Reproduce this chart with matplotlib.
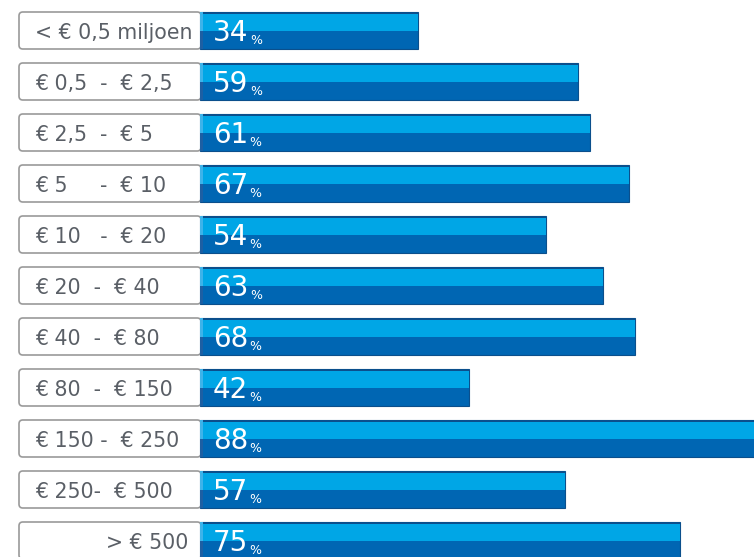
import matplotlib
matplotlib.use("Agg")
import matplotlib.pyplot as plt
from matplotlib.patches import FancyBboxPatch
import numpy as np

# data
labels = ["< € 0,5 miljoen", "€ 0,5  -  € 2,5", "€ 2,5  -  € 5", "€ 5     -  € 10",
          "€ 10   -  € 20", "€ 20  -  € 40", "€ 40  -  € 80", "€ 80  -  € 150",
          "€ 150 -  € 250", "€ 250-  € 500", "> € 500"]
values = [34, 59, 61, 67, 54, 63, 68, 42, 88, 57, 75]

light = "#00a6e6"
dark = "#0066b3"
edge = "#0b4f8c"
grey_txt = "#5a5f66"

W, H = 754, 557
px = 6.4          # pixels per percent
x0 = 200          # pixel where the bars begin
pitch = 51.0      # pixels between rows

fig = plt.figure(figsize=(W / 100, H / 100), dpi=100)
ax = fig.add_axes([0, 0, 1, 1])
ax.set_xlim(-x0 / px, (W - x0) / px)
ax.set_ylim((H - 30.5) / pitch, -30.5 / pitch)
ax.axis("off")

y = np.arange(len(values))
h = 37 / pitch          # full bar height
h_top = 19 / pitch      # light upper band
h_bot = h - h_top

# label boxes (rounded, right side hidden under the bars)
box_left = -(x0 - 19) / px
for i, lab in enumerate(labels):
    box = FancyBboxPatch((box_left, i - h / 2), -box_left + 1 / px, h,
                         boxstyle="round,pad=0,rounding_size=0.6",
                         mutation_aspect=px / pitch,
                         facecolor="white", edgecolor="#9a9a9a", linewidth=1.2, zorder=1)
    ax.add_patch(box)
    if lab.startswith(">"):
        ax.text(-12 / px, i + 0.17, lab, ha="right", va="baseline",
                fontsize=14.8, color=grey_txt, zorder=5)
    else:
        ax.text(box_left + 16 / px, i + 0.17, lab, ha="left", va="baseline",
                fontsize=14.8, color=grey_txt, zorder=5)

# bars: dark full height, light band on top, thin dark top line, left strip
ax.barh(y, values, height=h, color=dark, edgecolor=edge, linewidth=0.8, zorder=2)
ax.barh(y - h / 2 + h_top / 2, values, height=h_top, color=light, linewidth=0, zorder=3)
ax.barh(y - h / 2 + 1 / pitch, values, height=2 / pitch, color=edge, linewidth=0, zorder=4)
strip = [3 / px] * len(values)
ax.barh(y - h / 2 + h_top / 2, strip, height=h_top, color="#3db3ea", linewidth=0, zorder=4)
ax.barh(y + h / 2 - h_bot / 2, strip, height=h_bot, color="#1d5fa3", linewidth=0, zorder=4)

# values
for i, v in enumerate(values):
    t = ax.text(13 / px, i + 0.2, str(v), ha="left", va="baseline",
                fontsize=20, color="white", zorder=6)
    ax.annotate("%", xy=(1, 0), xycoords=t, xytext=(1, 0), textcoords="offset points",
                ha="left", va="bottom", fontsize=9, color="white", zorder=6)

fig.savefig("out.png", dpi=100)
